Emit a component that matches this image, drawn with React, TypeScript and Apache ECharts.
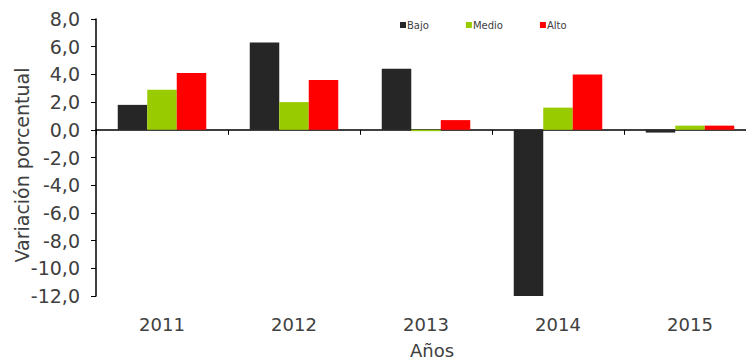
import React, { useEffect, useRef } from "react";
import * as echarts from "echarts";

const categories = ["2011", "2012", "2013", "2014", "2015"];
const bajo = [1.8, 6.3, 4.4, -12.0, -0.2];
const medio = [2.9, 2.0, -0.1, 1.6, 0.3];
const alto = [4.1, 3.6, 0.7, 4.0, 0.3];
const seriesNames = ["Bajo", "Medio", "Alto"];
const colors = ["#262626", "#99cc00", "#ff0000"];
const FONT = "DejaVu Sans, Liberation Sans, sans-serif";

export default function App() {
  const ref = useRef<HTMLDivElement>(null);
  useEffect(() => {
    if (!ref.current) return;
    const chart = echarts.init(ref.current, null, { renderer: "svg" });
    const fmt = (v: number) => v.toFixed(1).replace(".", ",");
    chart.setOption({
      animation: false,
      backgroundColor: "#ffffff",
      textStyle: { fontFamily: FONT },
      legend: {
        data: seriesNames,
        left: 395,
        top: 15,
        itemWidth: 6,
        itemHeight: 6,
        itemGap: 37,
        icon: "rect",
        textStyle: { fontSize: 10, color: "#404040", padding: [0, 0, 0, -4], fontFamily: FONT },
      },
      graphic: [
        {
          type: "text",
          x: 22,
          y: 165,
          rotation: Math.PI / 2,
          style: {
            text: "Variación porcentual",
            fontSize: 19,
            fill: "#404040",
            fontFamily: FONT,
            align: "center",
            verticalAlign: "middle",
          },
        },
        {
          type: "text",
          x: 432,
          y: 350,
          style: {
            text: "Años",
            fontSize: 18,
            fill: "#404040",
            fontFamily: FONT,
            align: "center",
            verticalAlign: "middle",
          },
        },
      ],
      grid: { left: 96, right: 0, top: 19, bottom: 64, containLabel: false },
      xAxis: [
        {
          type: "category",
          data: categories,
          axisLine: { show: true, onZero: true, lineStyle: { color: "#000", width: 1.5 } },
          axisTick: { show: true, length: 5, inside: false, lineStyle: { color: "#000" } },
          axisLabel: { show: false },
        },
        {
          type: "category",
          data: categories,
          position: "bottom",
          axisLine: { show: false, onZero: false },
          axisTick: { show: false },
          axisLabel: { show: true, fontSize: 18, color: "#404040", margin: 19, fontFamily: FONT },
        },
      ],
      yAxis: {
        type: "value",
        min: -12,
        max: 8,
        interval: 2,
        axisLine: { show: true, lineStyle: { color: "#000", width: 1.5 } },
        axisTick: { show: true, length: 5, lineStyle: { color: "#000" } },
        splitLine: { show: false },
        axisLabel: { fontSize: 19, color: "#404040", formatter: fmt, margin: 16, fontFamily: FONT },
      },
      series: [bajo, medio, alto].map((d, i) => ({
        name: seriesNames[i],
        type: "bar",
        data: d,
        xAxisIndex: 0,
        barWidth: 29.5,
        barGap: "0%",
        itemStyle: { color: colors[i] },
      })),
    });
    return () => chart.dispose();
  }, []);
  return (
    <div
      style={{
        position: "fixed",
        left: 0,
        top: 0,
        width: 746,
        height: 360,
        overflow: "hidden",
        background: "#fff",
      }}
    >
      <div ref={ref} style={{ width: 756, height: 360 }} />
    </div>
  );
}
